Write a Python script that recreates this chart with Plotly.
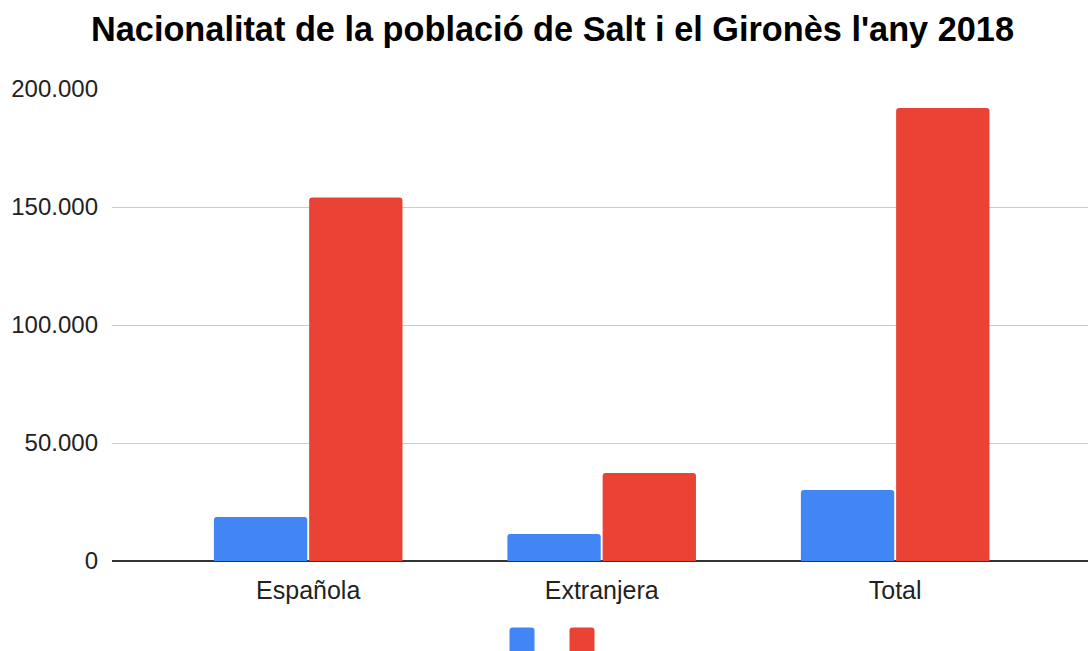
import re
import plotly.graph_objects as go

categories = ["Española", "Extranjera", "Total"]
salt = [18600, 11400, 30100]
girones = [154000, 37300, 192000]
y_ticks = [0, 50000, 100000, 150000, 200000]

title_text = "Nacionalitat de la població de Salt i el Gironès l'any 2018"
blue = "#4285F4"
red = "#EA4335"

W, H = 1088, 651
L, R, T, B = 112, 0, 89, 90
pw, ph = W - L - R, H - T - B

fig = go.Figure()
fig.add_trace(go.Bar(x=categories, y=salt, name="", marker=dict(color=blue, line=dict(width=0)), showlegend=False))
fig.add_trace(go.Bar(x=categories, y=girones, name="", marker=dict(color=red, line=dict(width=0)), showlegend=False))


def px_to_paper(path):
    def conv(m):
        px, py = float(m.group(1)), float(m.group(2))
        return f"{(px - L) / pw:.5f},{(H - B - py) / ph:.5f}"
    return re.sub(r"([-\d.]+),([-\d.]+)", conv, path)


# legend swatches (unlabelled, cut off at the bottom as in the reference)
for x0, col in [(509.5, blue), (569.5, red)]:
    r = 3
    x1 = x0 + 25
    y0 = 627.5
    y1 = 665
    path = (f"M{x0},{y1} L{x0},{y0 + r} Q{x0},{y0} {x0 + r},{y0} L{x1 - r},{y0} "
            f"Q{x1},{y0} {x1},{y0 + r} L{x1},{y1} Z")
    fig.add_shape(type="path", xref="paper", yref="paper", path=px_to_paper(path),
                  fillcolor=col, line=dict(width=0), layer="above")

fig.update_layout(
    width=W, height=H,
    margin=dict(l=L, r=R, t=T, b=B, pad=0),
    paper_bgcolor="white", plot_bgcolor="white",
    separators=",.",
    barmode="group", bargap=0.351, bargroupgap=0.02, barcornerradius=3,
    font=dict(family="Liberation Sans, Arial, sans-serif", color="#222222", size=24),
    title=dict(text=f"<b>{title_text}</b>", x=552.5 / W, xanchor="center", xref="container",
               y=1 - 28.5 / H, yanchor="middle", yref="container",
               font=dict(size=34.3, color="#000000")),
    showlegend=False,
)
fig.update_xaxes(range=[-0.6685, 2.657], showgrid=False, showline=False, zeroline=False,
                 ticks="", tickfont=dict(size=25, color="#222222"), ticklabelstandoff=12,
                 fixedrange=True)
fig.update_yaxes(range=[0, 200000], tickvals=y_ticks, tickformat=",", showgrid=True,
                 gridcolor="#cccccc", gridwidth=1, zeroline=True, zerolinecolor="#333333",
                 zerolinewidth=2, showline=False, ticks="",
                 tickfont=dict(size=24, color="#222222"), ticklabelstandoff=13,
                 fixedrange=True)

fig.write_html("out.html", config={"displayModeBar": False},
               post_script="document.body.style.margin='0';document.body.style.overflow='hidden';")
